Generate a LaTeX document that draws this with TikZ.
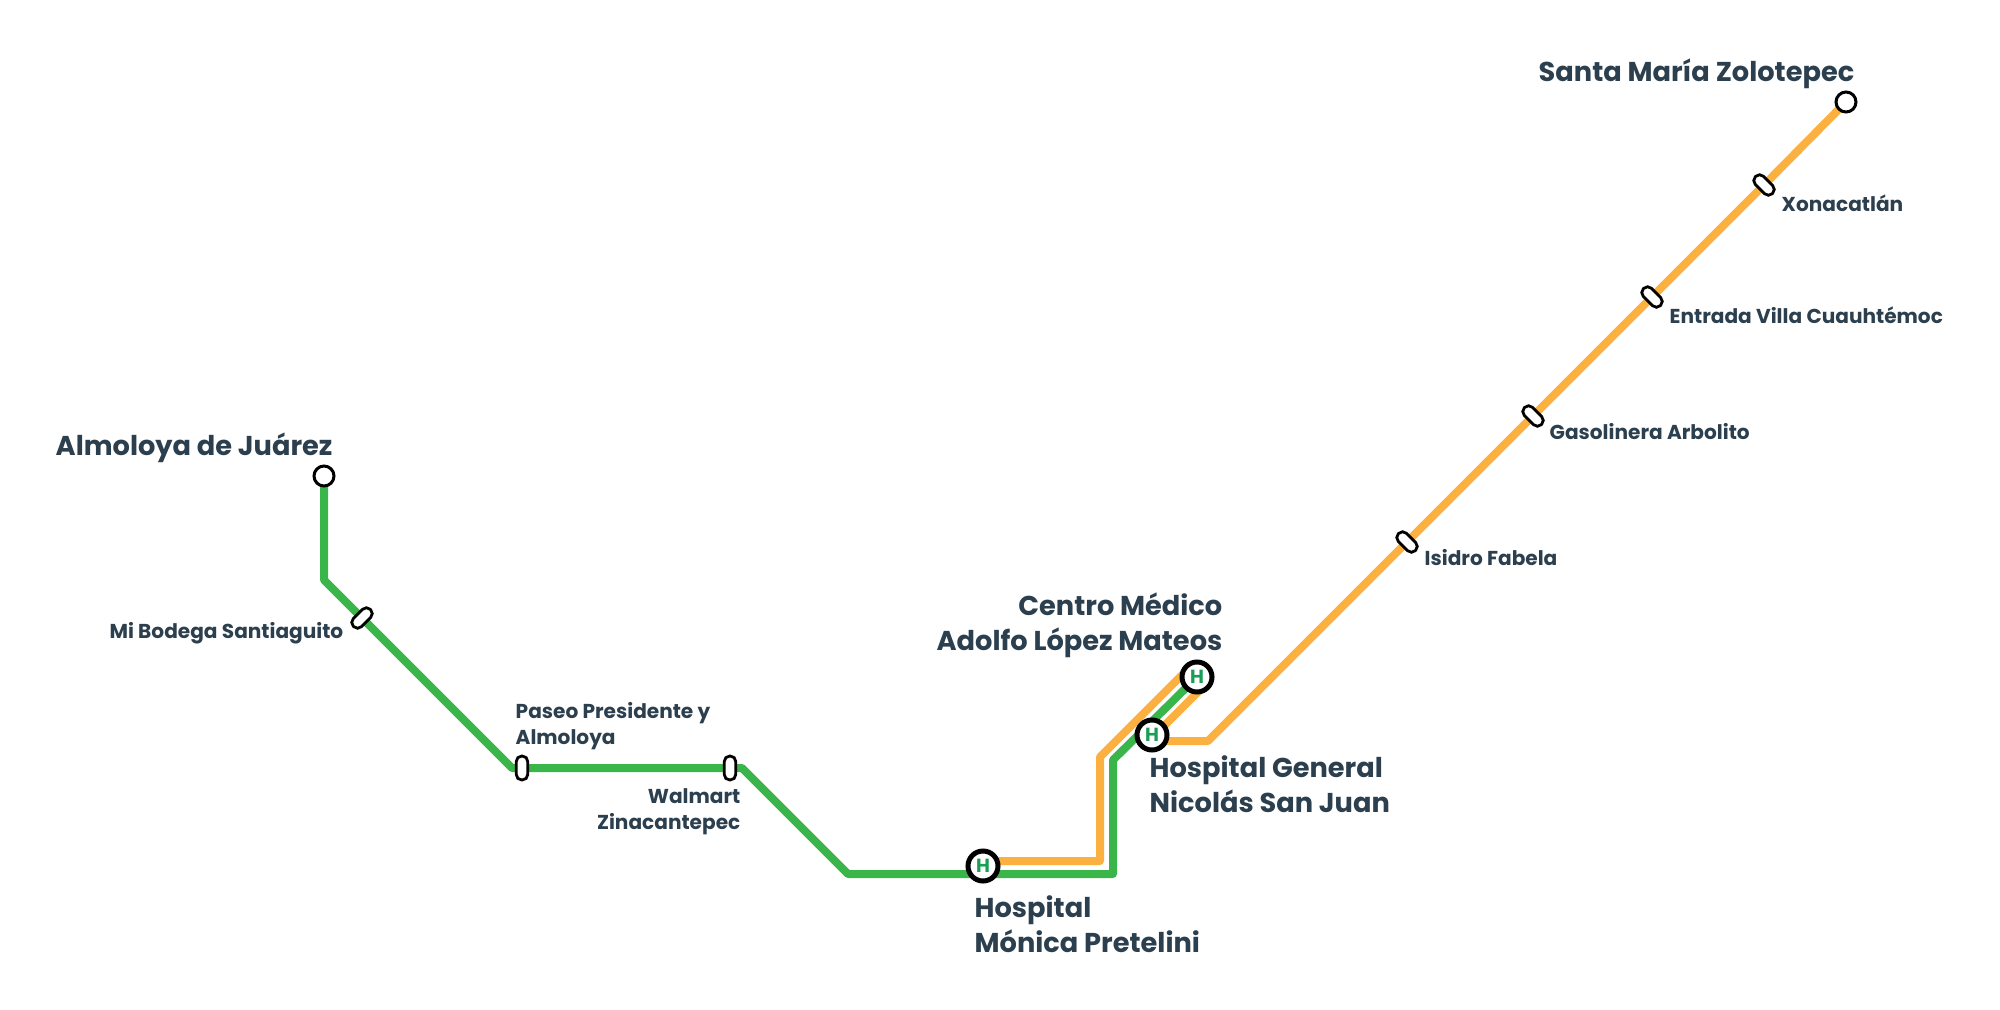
\documentclass[tikz,border=0pt]{standalone}
\usepackage{fontspec}
\setmainfont{Poppins}
\usetikzlibrary{backgrounds}
\definecolor{linegreen}{HTML}{3AB54A}
\definecolor{lineorange}{HTML}{FBB040}
\definecolor{hgreen}{HTML}{1A9E55}
\definecolor{labelink}{HTML}{2B3F4E}
\begin{document}
\begin{tikzpicture}[
  route/.style={line width=0.08cm, line join=round},
  terminal/.style={circle, draw=black, fill=white, line width=0.03cm,
    inner sep=0pt, minimum size=0.20cm},
  halt/.style={draw=black, fill=white, line width=0.028cm, inner sep=0pt,
    rounded corners=0.055cm, minimum width=0.24cm, minimum height=0.115cm},
  hospital/.style={circle, draw=black, fill=white, line width=0.05cm,
    inner sep=0pt, minimum size=0.30cm, text=hgreen,
    font=\fontsize{5.4pt}{5.6pt}\selectfont\bfseries},
  biglab/.style={text=labelink, inner sep=0pt, align=left,
    font=\fontsize{7.75pt}{9.7pt}\selectfont\bfseries},
  smalllab/.style={text=labelink, inner sep=0pt, align=left,
    font=\fontsize{5.72pt}{7.4pt}\selectfont\bfseries}]
\useasboundingbox (0,0) rectangle (20,10.09);

\node[terminal] (almoloya) at (3.24,5.33) {};
\node[terminal] (zolotepec) at (18.46,9.07) {};
\node[halt, rotate=45] (bodega) at (3.62,3.91) {};
\node[halt, rotate=90] (paseo) at (5.22,2.41) {};
\node[halt, rotate=90] (walmart) at (7.30,2.41) {};
\node[halt, rotate=-45] (isidro) at (14.07,4.67) {};
\node[halt, rotate=-45] (gasolinera) at (15.33,5.93) {};
\node[halt, rotate=-45] (entrada) at (16.52,7.12) {};
\node[halt, rotate=-45] (xonacatlan) at (17.64,8.24) {};
\node[hospital] (pretelini) at (9.83,1.43) {H};
\node[hospital] (general) at (11.52,2.74) {H};
\node[hospital] (medico) at (11.97,3.32) {H};

\coordinate (g1) at (3.24,4.29);
\coordinate (g2) at (5.12,2.41);
\coordinate (g3) at (7.42,2.41);
\coordinate (g4) at (8.48,1.35);
\coordinate (g5) at (11.13,1.35);
\coordinate (g6) at (11.13,2.49);
\coordinate (o1) at (12.08,2.68);
\coordinate (o2) at (11.49,2.68);
\coordinate (o3) at (12.00,3.19);
\coordinate (o4) at (11.92,3.44);
\coordinate (o5) at (11.00,2.52);
\coordinate (o6) at (11.00,1.48);
\coordinate (o7) at (9.83,1.48);

\begin{scope}[on background layer]
\draw[route, linegreen] (almoloya.center) -- (g1) -- (bodega.center)
  -- (g2) -- (paseo.center) -- (walmart.center) -- (g3) -- (g4)
  -- (g5) -- (g6) -- (medico.center);
\draw[route, lineorange] (zolotepec.center) -- (xonacatlan.center)
  -- (entrada.center) -- (gasolinera.center) -- (isidro.center)
  -- (o1) -- (o2) -- (o3);
\draw[route, lineorange] (o4) -- (o5) -- (o6) -- (o7);
\end{scope}

\node[biglab, anchor=base west] (lab1) at (0.55,5.54) {Almoloya de Juárez};
\node[biglab, anchor=base east] (lab2) at (18.55,9.28) {Santa María Zolotepec};
\node[biglab, anchor=base east, align=right] (lab3) at (12.23,3.59)
  {Centro Médico\\Adolfo López Mateos};
\node[biglab, anchor=base west] (lab4) at (11.49,1.97)
  {Hospital General\\Nicolás San Juan};
\node[biglab, anchor=base west] (lab5) at (9.74,0.57)
  {Hospital\\Mónica Pretelini};
\node[smalllab, anchor=base east] (lab6) at (3.44,3.71) {Mi Bodega Santiaguito};
\node[smalllab, anchor=base west] (lab7) at (5.15,2.65)
  {Paseo Presidente y\\Almoloya};
\node[smalllab, anchor=base east, align=right] (lab8) at (7.41,1.80)
  {Walmart\\Zinacantepec};
\node[smalllab, anchor=base west] (lab9) at (14.24,4.44) {Isidro Fabela};
\node[smalllab, anchor=base west] (lab10) at (15.49,5.70) {Gasolinera Arbolito};
\node[smalllab, anchor=base west] (lab11) at (16.69,6.86) {Entrada Villa Cuauhtémoc};
\node[smalllab, anchor=base west] (lab12) at (17.81,7.98) {Xonacatlán};
\end{tikzpicture}
\end{document}
